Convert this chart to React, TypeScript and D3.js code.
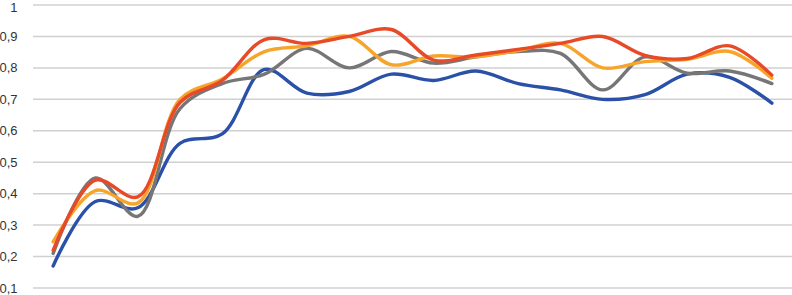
import React from "react";
import * as d3 from "d3";

const categories = ["1","2","3","4","5","6","7","8","9","10","11","12","13","14","15","16","17","18"];
const yTicks = [0.1, 0.2, 0.3, 0.4, 0.5, 0.6, 0.7, 0.8, 0.9, 1];

const seriesBlue = [0.17, 0.375, 0.355, 0.56, 0.59, 0.795, 0.72, 0.725, 0.78, 0.76, 0.79, 0.75, 0.73, 0.7, 0.715, 0.78, 0.77, 0.688];
const seriesRed = [0.22, 0.443, 0.39, 0.69, 0.76, 0.89, 0.878, 0.9, 0.922, 0.825, 0.841, 0.859, 0.878, 0.9, 0.84, 0.83, 0.87, 0.777];
const seriesGray = [0.21, 0.45, 0.328, 0.67, 0.75, 0.78, 0.862, 0.8, 0.852, 0.815, 0.835, 0.852, 0.846, 0.73, 0.835, 0.783, 0.79, 0.75];
const seriesYellow = [0.247, 0.41, 0.37, 0.7, 0.765, 0.852, 0.87, 0.9, 0.81, 0.838, 0.835, 0.855, 0.878, 0.8, 0.82, 0.827, 0.852, 0.767];

const series = [
  { name: "Gray", values: seriesGray, color: "#767676" },
  { name: "Blue", values: seriesBlue, color: "#2a50a8" },
  { name: "Yellow", values: seriesYellow, color: "#f7a52a" },
  { name: "Red", values: seriesRed, color: "#e84a28" },
];

const W = 792;
const H = 295;

export default function App() {
  const x = d3.scalePoint<string>().domain(categories).range([32, 793]).padding(0.5);
  const y = d3.scaleLinear().domain([0.1, 1]).range([288, 5]);
  const fmt = (v: number) => (v === 1 ? "1" : d3.format(".1f")(v).replace(".", ","));
  const line = d3
    .line<number>()
    .x((_, i) => x(categories[i]) as number)
    .y((d) => y(d))
    .curve(d3.curveCatmullRom.alpha(0.5));

  const order = [series[1], series[0], series[2], series[3]];

  return (
    <svg
      width={W}
      height={H}
      style={{ position: "absolute", left: 0, top: 0, background: "#fff" }}
    >
      {yTicks.map((t) => (
        <g key={t}>
          <line x1={33} x2={W} y1={y(t)} y2={y(t)} stroke="#d0d0d0" strokeWidth={1.5} />
          <text
            x={17.5}
            y={Math.max(y(t), 7)}
            textAnchor="end"
            dominantBaseline="central"
            fontFamily="'Liberation Sans', Arial, sans-serif"
            fontSize={13}
            fill="#333333"
          >
            {fmt(t)}
          </text>
        </g>
      ))}
      {order.map((s) => (
        <path
          key={s.name}
          d={line(s.values) || ""}
          fill="none"
          stroke={s.color}
          strokeWidth={3.4}
          strokeLinecap="round"
          strokeLinejoin="round"
        />
      ))}
    </svg>
  );
}
